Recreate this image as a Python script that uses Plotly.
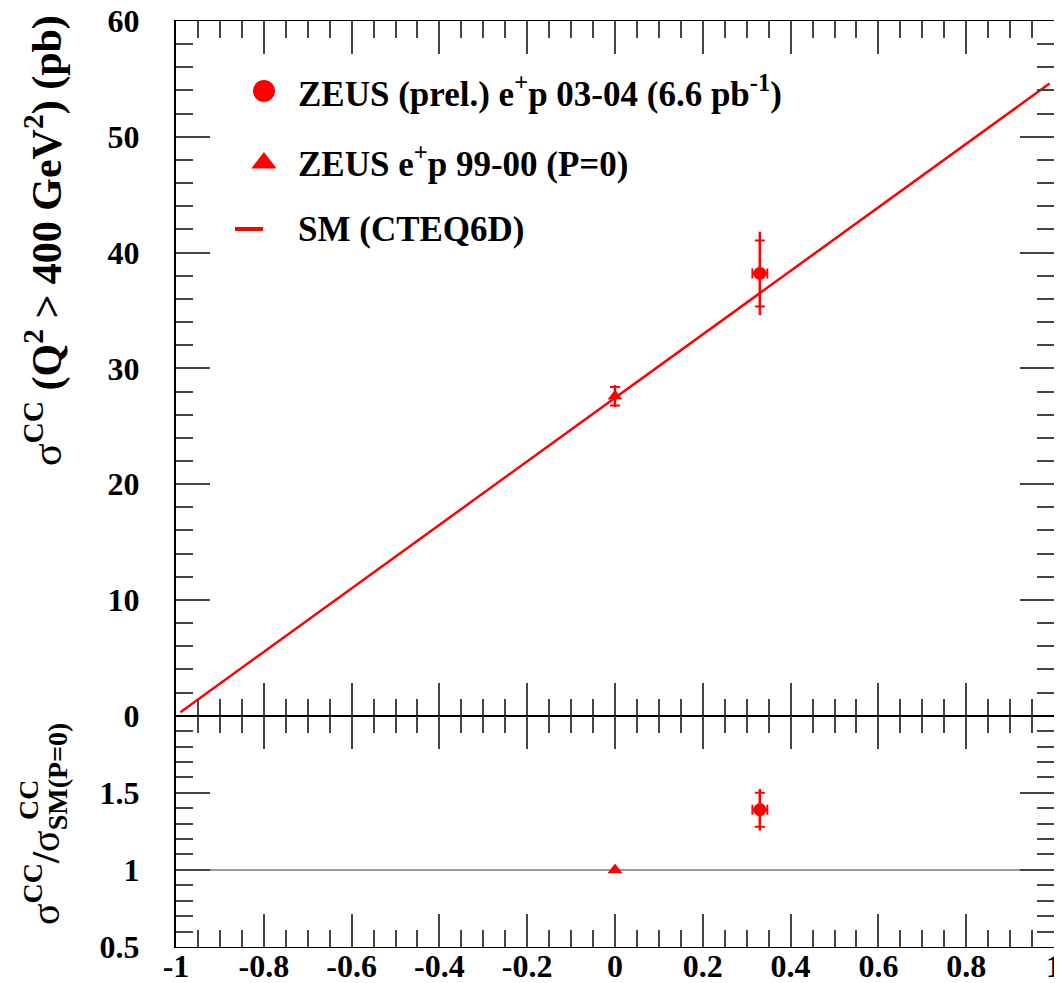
import plotly.graph_objects as go

# ---------------- data ----------------
zeus0304_P = [0.33]
zeus0304_Perr = [0.017]
zeus0304_sigma = [38.2]
zeus0304_stat = [2.85]
zeus0304_tot = [3.6]

zeus9900_P = [0.0]
zeus9900_sigma = [27.6]
zeus9900_stat = [0.8]
zeus9900_tot = [0.95]

sm_P = [-0.99, 0.99]
sm_sigma = [0.3, 54.6]

ratio0304 = [1.39]
ratio0304_stat = [0.11]
ratio0304_tot = [0.135]
ratio9900 = [1.0]

ratio_ref_P = [-1.0, 1.0]
ratio_ref = [1.0, 1.0]

x_tickvals = [-1, -0.8, -0.6, -0.4, -0.2, 0, 0.2, 0.4, 0.6, 0.8, 1]
x_ticktext = ["-1", "-0.8", "-0.6", "-0.4", "-0.2", "0", "0.2", "0.4", "0.6", "0.8", "1"]
y_tickvals = [0, 10, 20, 30, 40, 50, 60]
y_ticktext = ["0", "10", "20", "30", "40", "50", "60"]
r_tickvals = [0.5, 1, 1.5]
r_ticktext = ["0.5", "1", "1.5"]

legend_labels = [
    "ZEUS (prel.) e<sup>+</sup>p 03-04 (6.6 pb<sup>-1</sup>)",
    "ZEUS e<sup>+</sup>p 99-00 (P=0)",
    "SM (CTEQ6D)",
]

# ---------------- style ----------------
RED = "#ff0000"
TICKC = "#444444"
FONT = "Liberation Serif"
OFF = 8                       # page body margin in the browser
PAGE_W, PAGE_H = 1062, 983
W, H = PAGE_W - OFF, PAGE_H - OFF
# target plot frame in page pixels
PX0, PX1, PY0, PY1 = 176, 1054.5, 21, 947
ML, MR = PX0 - OFF, W - (PX1 - OFF)
MT, MB = PY0 - OFF, H - (PY1 - OFF)


def px(x):
    return (x - PX0) / (PX1 - PX0)


def py(y):
    return (PY1 - y) / (PY1 - PY0)


fig = go.Figure()

# upper panel
fig.add_trace(go.Scatter(x=sm_P, y=sm_sigma, mode="lines",
                         line=dict(color=RED, width=2.5), xaxis="x", yaxis="y",
                         showlegend=False, hoverinfo="skip"))
fig.add_trace(go.Scatter(x=zeus0304_P, y=zeus0304_sigma, mode="markers",
                         marker=dict(color="rgba(0,0,0,0)", size=2),
                         error_y=dict(type="data", array=zeus0304_tot, width=0, thickness=2.5, color=RED),
                         xaxis="x", yaxis="y", showlegend=False))
fig.add_trace(go.Scatter(x=zeus0304_P, y=zeus0304_sigma, mode="markers",
                         marker=dict(symbol="circle", color=RED, size=13),
                         error_y=dict(type="data", array=zeus0304_stat, width=5, thickness=2, color=RED),
                         error_x=dict(type="data", array=zeus0304_Perr, width=5, thickness=2, color=RED),
                         xaxis="x", yaxis="y", showlegend=False))
fig.add_trace(go.Scatter(x=zeus9900_P, y=zeus9900_sigma, mode="markers",
                         marker=dict(color="rgba(0,0,0,0)", size=2),
                         error_y=dict(type="data", array=zeus9900_tot, width=0, thickness=2.5, color=RED),
                         xaxis="x", yaxis="y", showlegend=False))
fig.add_trace(go.Scatter(x=zeus9900_P, y=zeus9900_sigma, mode="markers",
                         marker=dict(symbol="triangle-up", color=RED, size=13),
                         error_y=dict(type="data", array=zeus9900_stat, width=5, thickness=2, color=RED),
                         xaxis="x", yaxis="y", showlegend=False))

# lower panel
fig.add_trace(go.Scatter(x=ratio_ref_P, y=ratio_ref, mode="lines",
                         line=dict(color="#777777", width=1.5), xaxis="x2", yaxis="y2",
                         showlegend=False, hoverinfo="skip"))
fig.add_trace(go.Scatter(x=zeus0304_P, y=ratio0304, mode="markers",
                         marker=dict(color="rgba(0,0,0,0)", size=2),
                         error_y=dict(type="data", array=ratio0304_tot, width=0, thickness=2.5, color=RED),
                         xaxis="x2", yaxis="y2", showlegend=False))
fig.add_trace(go.Scatter(x=zeus0304_P, y=ratio0304, mode="markers",
                         marker=dict(symbol="circle", color=RED, size=13),
                         error_y=dict(type="data", array=ratio0304_stat, width=5, thickness=2, color=RED),
                         error_x=dict(type="data", array=zeus0304_Perr, width=5, thickness=2, color=RED),
                         xaxis="x2", yaxis="y2", showlegend=False))
fig.add_trace(go.Scatter(x=zeus9900_P, y=ratio9900, mode="markers",
                         marker=dict(symbol="triangle-up", color=RED, size=13),
                         xaxis="x2", yaxis="y2", showlegend=False))

# custom legend keys on a pixel-frame overlay axis (page pixel coordinates)
LEG_X_MARK = 264
LEG_Y = [91, 161, 229]
LEG_LINE_X = [235, 263]
LEG_TEXT_X = 296
fig.add_trace(go.Scatter(x=[LEG_X_MARK], y=[LEG_Y[0]], mode="markers",
                         marker=dict(symbol="circle", color=RED, size=22),
                         xaxis="x3", yaxis="y3", showlegend=False, hoverinfo="skip"))
fig.add_trace(go.Scatter(x=[LEG_X_MARK], y=[LEG_Y[1] + 2], mode="markers",
                         marker=dict(symbol="triangle-up", color=RED, size=22),
                         xaxis="x3", yaxis="y3", showlegend=False, hoverinfo="skip"))
fig.add_trace(go.Scatter(x=LEG_LINE_X, y=[LEG_Y[2], LEG_Y[2]], mode="lines",
                         line=dict(color=RED, width=4),
                         xaxis="x3", yaxis="y3", showlegend=False, hoverinfo="skip"))

annotations = []
for lab, yy in zip(legend_labels, LEG_Y):
    annotations.append(dict(x=px(LEG_TEXT_X), y=py(yy), xref="paper", yref="paper",
                            text="<b>" + lab + "</b>",
                            showarrow=False, xanchor="left", yanchor="middle",
                            font=dict(family=FONT, size=35, color="black")))

# axis titles
annotations.append(dict(x=px(44), y=py(241), xref="paper", yref="paper",
                        text="σ<b><sup>CC</sup> (Q<sup>2</sup> &gt; 400 GeV<sup>2</sup>) (pb)</b>",
                        textangle=-90, showarrow=False, xanchor="center", yanchor="middle",
                        font=dict(family=FONT, size=42, color="black")))
annotations.append(dict(x=px(45), y=py(824), xref="paper", yref="paper",
                        text="σ<b><sup>CC</sup>/</b>σ<b><sub>SM(P=0)</sub></b>",
                        textangle=-90, showarrow=False, xanchor="center", yanchor="middle",
                        font=dict(family=FONT, size=40, color="black")))
annotations.append(dict(x=px(28), y=py(800), xref="paper", yref="paper",
                        text="<b>CC</b>",
                        textangle=-90, showarrow=False, xanchor="center", yanchor="middle",
                        font=dict(family=FONT, size=28, color="black")))

tickfont = dict(family=FONT, size=32, color="black", weight="bold")
LOWER = (PY1 - 715.7) / (PY1 - PY0)

common_x = dict(range=[-1, 1], tickmode="array", tickvals=x_tickvals, ticktext=x_ticktext,
                ticks="inside", ticklen=33, tickwidth=2, tickcolor=TICKC,
                showline=True, linecolor="black", linewidth=1.2, mirror="ticks",
                showgrid=False, zeroline=False, tickfont=tickfont, automargin=False,
                ticklabeloverflow="allow",
                minor=dict(tickmode="linear", tick0=-1, dtick=0.05, ticks="inside",
                           ticklen=17, tickwidth=2, tickcolor=TICKC, showgrid=False))

common_y = dict(ticks="inside", ticklen=34, tickwidth=2, tickcolor=TICKC,
                showline=True, linecolor="black", linewidth=2, mirror="ticks",
                showgrid=False, zeroline=False, tickfont=tickfont, ticklabelstandoff=28,
                automargin=False, ticklabeloverflow="allow", tickmode="array")

fig.update_layout(
    width=W, height=H,
    margin=dict(l=ML, r=MR, t=MT, b=MB, autoexpand=False),
    paper_bgcolor="white", plot_bgcolor="rgba(0,0,0,0)",
    showlegend=False,
    xaxis=dict(common_x, domain=[0, 1], anchor="y", showticklabels=False),
    xaxis2=dict(common_x, domain=[0, 1], anchor="y2", matches="x", showticklabels=True,
                ticklabelstandoff=-10),
    yaxis=dict(common_y, domain=[LOWER, 1], anchor="x", range=[0, 60],
               tickvals=y_tickvals, ticktext=y_ticktext,
               minor=dict(tickmode="linear", tick0=0, dtick=2, ticks="inside",
                          ticklen=17, tickwidth=2, tickcolor=TICKC, showgrid=False)),
    yaxis2=dict(common_y, domain=[0, LOWER], anchor="x2", range=[0.5, 2.0],
                tickvals=r_tickvals, ticktext=r_ticktext,
                minor=dict(tickmode="linear", tick0=0.5, dtick=0.1, ticks="inside",
                           ticklen=17, tickwidth=2, tickcolor=TICKC, showgrid=False)),
    xaxis3=dict(domain=[0, 1], anchor="y3", range=[PX0, PX1], visible=False, fixedrange=True),
    yaxis3=dict(domain=[0, 1], anchor="x3", range=[PY1, PY0], visible=False, fixedrange=True),
    annotations=annotations,
)

fig.write_html("out.html")
